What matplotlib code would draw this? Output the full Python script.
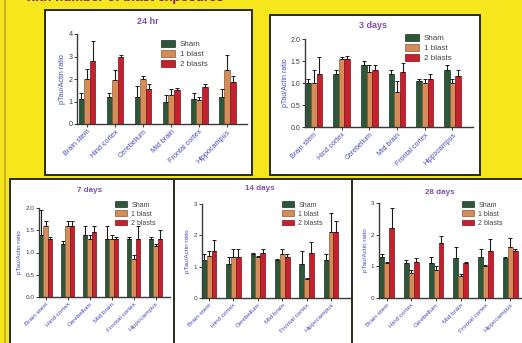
import matplotlib
matplotlib.use("Agg")
import matplotlib.pyplot as plt
from matplotlib.patches import Rectangle
from matplotlib.lines import Line2D
import numpy as np

plt.rcParams['font.family'] = ['Liberation Sans', 'DejaVu Sans']

regions = ["Brain stem", "Hind cortex", "Cerebellum", "Mid brain", "Frontal cortex", "Hippocampus"]
groups = ["Sham", "1 blast", "2 blasts"]

# mean pTau/Actin ratio and upper error-bar tips, per time point
hr24_sham = [1.1, 1.2, 1.2, 1.0, 1.1, 1.2]
hr24_one = [2.0, 1.95, 2.0, 1.3, 1.05, 2.4]
hr24_two = [2.8, 3.0, 1.55, 1.5, 1.65, 1.85]
hr24_sham_top = [1.4, 1.4, 1.7, 1.3, 1.4, 1.55]
hr24_one_top = [2.45, 2.4, 2.15, 1.55, 1.2, 3.05]
hr24_two_top = [3.7, 3.05, 1.8, 1.6, 1.8, 2.15]

d3_sham = [1.0, 1.2, 1.4, 1.2, 1.05, 1.3]
d3_one = [1.0, 1.55, 1.25, 0.8, 1.0, 1.0]
d3_two = [1.2, 1.55, 1.3, 1.25, 1.1, 1.15]
d3_sham_top = [1.1, 1.3, 1.5, 1.3, 1.08, 1.4]
d3_one_top = [1.3, 1.6, 1.4, 1.05, 1.08, 1.08]
d3_two_top = [1.6, 1.62, 1.4, 1.45, 1.2, 1.3]

d7_sham = [1.4, 1.2, 1.4, 1.3, 1.3, 1.3]
d7_one = [1.6, 1.6, 1.3, 1.3, 0.85, 1.15]
d7_two = [1.3, 1.6, 1.45, 1.3, 1.3, 1.3]
d7_sham_top = [1.95, 1.25, 1.6, 1.6, 1.35, 1.35]
d7_one_top = [1.7, 1.7, 1.4, 1.4, 0.95, 1.2]
d7_two_top = [1.35, 1.7, 1.6, 1.35, 1.6, 1.5]

d14_sham = [1.2, 1.1, 1.4, 1.2, 1.1, 1.2]
d14_one = [1.35, 1.3, 1.3, 1.4, 0.6, 2.1]
d14_two = [1.5, 1.3, 1.45, 1.3, 1.45, 2.1]
d14_sham_top = [1.4, 1.3, 1.45, 1.25, 1.5, 1.4]
d14_one_top = [1.5, 1.55, 1.35, 1.55, 0.65, 2.7]
d14_two_top = [1.85, 1.55, 1.55, 1.4, 1.8, 2.45]

d28_sham = [1.3, 1.1, 1.1, 1.25, 1.3, 1.25]
d28_one = [1.1, 0.8, 0.9, 0.7, 1.0, 1.6]
d28_two = [2.2, 1.15, 1.75, 1.1, 1.5, 1.5]
d28_sham_top = [1.4, 1.2, 1.3, 1.6, 1.55, 1.3]
d28_one_top = [1.15, 0.9, 1.0, 0.75, 1.05, 1.9]
d28_two_top = [2.85, 1.25, 1.95, 1.15, 1.85, 1.55]

W, H = 522, 343
BG = '#f6e61c'
COLORS = ['#2d5738', '#d48c58', '#c4202e']
EDGES = ['#1a3322', '#8a5a36', '#7a1018']
TITLE_C = '#7a50a8'
LABEL_C = '#4a4ab8'

fig = plt.figure(figsize=(W / 100, H / 100), dpi=100, facecolor=BG)


def fx(px):
    return px / W


def fy(py):
    return 1 - py / H


def box(x0, y0, x1, y1, lw=1.4):
    fig.patches.append(Rectangle((fx(x0), fy(y1)), fx(x1) - fx(x0), fy(y0) - fy(y1),
                                 transform=fig.transFigure, facecolor='white',
                                 edgecolor='#2a2a1a', lw=lw, zorder=-2))


# header line, partly above the top edge
fig.text(fx(25), fy(1.5), "with number of blast exposures", color='#8a1c14',
         fontsize=9.5, fontweight='bold', va='baseline', ha='left')

# left strip line
fig.lines.append(Line2D([fx(5), fx(5)], [0, 1], transform=fig.transFigure,
                        color='#c8b820', lw=1.5, zorder=-3))

# panel frames
box(45, 10, 252, 175)
box(270, 15, 480, 175)
box(10, 179, 540, 360)
for xd in (174, 352):
    fig.lines.append(Line2D([fx(xd), fx(xd)], [fy(179), 0], transform=fig.transFigure,
                            color='#2a2a1a', lw=1.4, zorder=-1))

panels = [
    dict(title="24 hr", data=(hr24_sham, hr24_one, hr24_two),
         tops=(hr24_sham_top, hr24_one_top, hr24_two_top),
         ax=(77, 247, 124, 34), ylim=4, yticks=[0, 1, 2, 3, 4], fmt='{:.0f}',
         xlim=(-0.36, 5.71), title_xy=(148, 21), leg_xy=(157, 36), fs=5.2, lfs=5.8,
         tfs=6.5, ylab_x=62),
    dict(title="3 days", data=(d3_sham, d3_one, d3_two),
         tops=(d3_sham_top, d3_one_top, d3_two_top),
         ax=(305, 473, 127, 39), ylim=2, yticks=[0, 0.5, 1, 1.5, 2], fmt='{:.1f}',
         xlim=(-0.32, 5.74), title_xy=(373, 25), leg_xy=(401, 30), fs=5.0, lfs=5.8,
         tfs=6.5, ylab_x=285),
    dict(title="7 days", data=(d7_sham, d7_one, d7_two),
         tops=(d7_sham_top, d7_one_top, d7_two_top),
         ax=(39, 170, 297, 208), ylim=2, yticks=[0, 0.5, 1, 1.5, 2], fmt='{:.1f}',
         xlim=(-0.3, 5.65), title_xy=(90, 190), leg_xy=(112, 198), fs=4.6, lfs=5.0,
         tfs=5.8, ylab_x=20),
    dict(title="14 days", data=(d14_sham, d14_one, d14_two),
         tops=(d14_sham_top, d14_one_top, d14_two_top),
         ax=(202, 350, 298, 204), ylim=3, yticks=[0, 1, 2, 3], fmt='{:.0f}',
         xlim=(-0.29, 5.78), title_xy=(260, 189), leg_xy=(279, 198), fs=4.6, lfs=5.0,
         tfs=5.8, ylab_x=188),
    dict(title="28 days", data=(d28_sham, d28_one, d28_two),
         tops=(d28_sham_top, d28_one_top, d28_two_top),
         ax=(379, 525, 298, 203), ylim=3, yticks=[0, 1, 2, 3], fmt='{:.0f}',
         xlim=(-0.31, 5.6), title_xy=(440, 192), leg_xy=(459, 198), fs=4.6, lfs=5.0,
         tfs=5.8, ylab_x=365),
]

x = np.arange(len(regions))
bw = 0.2

for p in panels:
    l, r, b, t = p['ax']
    ax = fig.add_axes([fx(l), fy(b), fx(r) - fx(l), fy(t) - fy(b)])
    ax.set_facecolor('none')
    handles = []
    for i, (vals, tops) in enumerate(zip(p['data'], p['tops'])):
        vals = np.array(vals)
        tops = np.array(tops)
        xs = x + (i - 1) * bw
        h = ax.bar(xs, vals, width=bw, color=COLORS[i], edgecolor=EDGES[i], lw=0.5,
                   label=groups[i], zorder=2)
        handles.append(h)
        ax.errorbar(xs, vals, yerr=[np.zeros_like(vals), tops - vals], fmt='none',
                    ecolor='#1c1c1c', elinewidth=0.8, capsize=1.2, capthick=0.7, zorder=3)
    ax.set_xlim(*p['xlim'])
    ax.set_ylim(0, p['ylim'])
    ax.set_yticks(p['yticks'])
    ax.set_yticklabels([p['fmt'].format(v) for v in p['yticks']], fontsize=p['fs'],
                       color='#333333')
    ax.set_xticks(x)
    ax.set_xticklabels(regions, rotation=45, ha='right', rotation_mode='anchor',
                       fontsize=p['fs'], color=LABEL_C)
    for s in ('top', 'right'):
        ax.spines[s].set_visible(False)
    for s in ('left', 'bottom'):
        ax.spines[s].set_color('#3a3a3a')
        ax.spines[s].set_linewidth(1.0)
    ax.tick_params(axis='both', direction='out', length=2, width=0.7, pad=1.2,
                   colors='#3a3a3a')
    ax.tick_params(axis='x', labelcolor=LABEL_C)
    fig.text(fx(p['ylab_x']), (fy(b) + fy(t)) / 2, "pTau/Actin ratio", rotation=90,
             ha='center', va='center', fontsize=p['fs'], color=LABEL_C)
    fig.text(fx(p['title_xy'][0]), fy(p['title_xy'][1]), p['title'], ha='center',
             va='center', fontsize=p['tfs'], color=TITLE_C, fontweight='bold')
    ax.legend(handles=handles, loc='upper left',
              bbox_to_anchor=(fx(p['leg_xy'][0]), fy(p['leg_xy'][1])),
              bbox_transform=fig.transFigure, frameon=False, fontsize=p['lfs'],
              handlelength=1.7, handleheight=0.9, labelspacing=0.25, borderpad=0,
              handletextpad=0.6, labelcolor='#444444')

fig.savefig("out.png", dpi=100, facecolor=BG)
